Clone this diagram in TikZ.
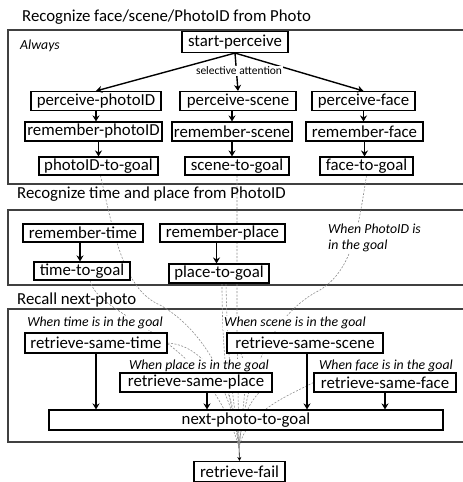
\documentclass[tikz,border=0pt]{standalone}
\usepackage{fontspec}
\setmainfont{Carlito}
\usetikzlibrary{positioning,arrows.meta}
\pgfdeclarelayer{frames}
\pgfdeclarelayer{traces}
\pgfsetlayers{frames,traces,main}

\begin{document}
\begin{tikzpicture}[
        x=1pt, y=-1pt,
        font=\fontsize{16.8}{18}\selectfont,
        flow/.style={-{Stealth[length=6pt, width=7pt]}, line width=1.4pt, draw=black},
        trace/.style={line width=0.6pt, draw=black!45, dash pattern=on 2pt off 1.5pt},
        frame/.style={line width=1.1pt, draw=black!75},
        title/.style={anchor=west, inner sep=0pt},
        cond/.style={font=\fontsize{13.8}{16}\selectfont\itshape, fill=white, inner sep=1pt},
        box/.style={
            rectangle,
            draw=black,
            fill=white,
            line width=1.1pt,
            minimum height=19pt,
            inner sep=1pt
        }
    ]
    \useasboundingbox (0,0) rectangle (463,482);

    % three stages
    \begin{pgfonlayer}{frames}
        \draw[frame] (8,30) rectangle (470,184);
        \draw[frame] (8,210) rectangle (470,285);
        \draw[frame] (8,309) rectangle (470,442);
    \end{pgfonlayer}
    \node[title] (t1) at (22,17) {Recognize face/scene/PhotoID from Photo};
    \node[title] (t2) at (17,194) {Recognize time and place from PhotoID};
    \node[title] (t3) at (17,300) {Recall next-photo};

    \node[cond, anchor=west] (always) at (19,46) {Always};

    \node[box, minimum width=106pt, minimum height=21pt] (start) at (235,42) {start-perceive};
    \node[font=\fontsize{11.5}{13}\selectfont, fill=white, inner sep=1pt] (attn) at (239,71) {selective attention};

    \node[box, minimum width=130pt] (pphoto) at (96,101) {perceive-photoID};
    \node[box, minimum width=116pt] (pscene) at (238,101) {perceive-scene};
    \node[box, minimum width=103pt] (pface) at (363.5,101) {perceive-face};

    \node[box, minimum width=137pt] (rphoto) at (93.5,131.5) {remember-photoID};
    \node[box, minimum width=120pt] (rscene) at (232,131.5) {remember-scene};
    \node[box, minimum width=117pt] (rface) at (364.5,131.5) {remember-face};

    \node[box, minimum width=119pt, minimum height=18pt] (gphoto) at (98.5,166) {photoID-to-goal};
    \node[box, minimum width=104pt, minimum height=18pt] (gscene) at (237,166) {scene-to-goal};
    \node[box, minimum width=93pt, minimum height=18pt] (gface) at (366.5,166) {face-to-goal};

    \node[box, minimum width=120pt, minimum height=18pt] (rtime) at (83,233) {remember-time};
    \node[box, minimum width=125pt, minimum height=18pt] (rplace) at (222.5,233) {remember-place};
    \node[box, minimum width=96pt, minimum height=18pt] (gtime) at (82,271) {time-to-goal};
    \node[box, minimum width=100pt] (gplace) at (219,273.5) {place-to-goal};
    \node[cond, anchor=west, align=left] (whenid) at (327,238) {When PhotoID is\\in the goal};

    \node[cond] (whentime) at (95,323) {When time is in the goal};
    \node[cond] (whenscene) at (295,323) {When scene is in the goal};
    \node[box, minimum width=142pt, minimum height=20pt] (rstime) at (96,343) {retrieve-same-time};
    \node[box, minimum width=156pt, minimum height=20pt] (rsscene) at (305,343) {retrieve-same-scene};

    \node[cond] (whenplace) at (199,366) {When place is in the goal};
    \node[cond] (whenface) at (386,366) {When face is in the goal};
    \node[box, minimum width=152pt] (rsplace) at (196,382.5) {retrieve-same-place};
    \node[box, minimum width=142pt] (rsface) at (385,382.5) {retrieve-same-face};

    \node[box, minimum width=394pt, minimum height=20pt] (next) at (246,420) {next-photo-to-goal};
    \node[box, minimum width=91pt, minimum height=20pt] (fail) at (239.5,471.5) {retrieve-fail};
    \coordinate (merge) at (239,447);

    \draw[flow] (start.south) -- (pscene.north);
    \draw[flow] (start.south) -- (pphoto.north);
    \draw[flow] (start.south) -- (pface.north);
    \node[font=\fontsize{11.5}{13}\selectfont, fill=white, inner sep=1pt] at (attn) {selective attention};

    \draw[flow] (pphoto) -- (pphoto |- rphoto.north);
    \draw[flow] (pscene.south -| rscene) -- (rscene.north);
    \draw[flow] (pface) -- (pface |- rface.north);
    \draw[flow] (rphoto.south -| gphoto) -- (gphoto.north);
    \draw[flow] (rscene) -- (rscene |- gscene.north);
    \draw[flow] (rface) -- (rface |- gface.north);

    \draw[flow] ([xshift=-3pt]rtime.south) -- ([xshift=-3pt]rtime.south |- gtime.north);
    \draw[flow] ([xshift=-6pt]rplace.south) -- ([xshift=-6pt]rplace.south |- gplace.north);

    \draw[flow] (rstime) -- (rstime |- next.north);
    \draw[flow] ([xshift=11pt]rsplace.south) -- ([xshift=11pt]rsplace.south |- next.north);
    \draw[flow] ([xshift=2pt]rsscene.south) -- ([xshift=2pt]rsscene.south |- next.north);
    \draw[flow] (rsface) -- (rsface |- next.north);

    \begin{pgfonlayer}{traces}
        \draw[trace] ([xshift=2pt]gphoto.south) .. controls (115,240) and (125,290) .. (160,305)
            .. controls (205,330) and (236,390) .. (merge);
        \draw[trace] (gscene.south) -- (237,330) .. controls (238,390) .. (merge);
        \draw[trace] (gface.south) .. controls (358,230) and (352,270) .. (320,290)
            .. controls (280,310) and (248,360) .. (merge);
        \draw[trace] ([xshift=8pt]gtime.south) .. controls (100,320) and (205,330) .. (merge);
        \draw[trace] ([xshift=3pt]gplace.south) .. controls (222,390) and (236,420) .. (merge);
        \draw[trace] ([xshift=7pt]gplace.south) .. controls (228,390) and (238,420) .. (merge);
        \draw[trace] (rstime.east) .. controls (205,345) and (232,390) .. (merge);
        \draw[trace] (rsplace.east) .. controls (255,392) and (242,410) .. (merge);
        \draw[trace] (rsscene.west) .. controls (255,350) and (244,390) .. (merge);
        \draw[trace] (rsface.west) .. controls (290,395) and (248,410) .. (merge);
    \end{pgfonlayer}
    \draw[-{Stealth[length=4pt, width=4pt]}, line width=0.6pt] (merge) -- (fail.north);

\end{tikzpicture}
\end{document}
